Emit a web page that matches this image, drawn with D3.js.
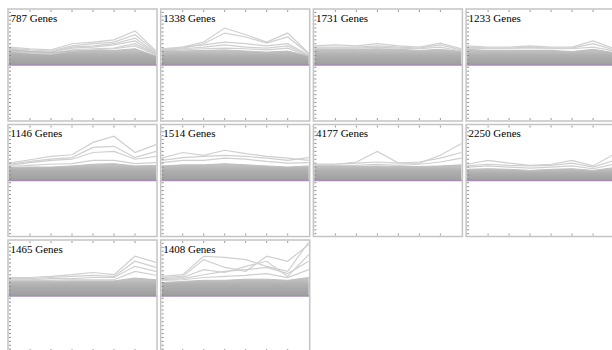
<!DOCTYPE html>
<html><head><meta charset="utf-8">
<script src="https://cdn.jsdelivr.net/npm/d3@7"></script>
<style>html,body{margin:0;padding:0;background:#fff;}svg{display:block;}</style>
</head><body>
<svg id="c" width="612" height="350"></svg>
<script>
const timepoints = [0,1,2,3,4,5,6,7];
const panelLabels = ["787 Genes","1338 Genes","1731 Genes","1233 Genes","1146 Genes","1514 Genes","4177 Genes","2250 Genes","1465 Genes","1408 Genes"];
// upper edge of the dense band of profiles, per panel
const bandUpper = [
  [.27,.24,.22,.25,.26,.26,.29,.16],
  [.25,.25,.26,.27,.25,.23,.25,.16],
  [.28,.28,.28,.29,.28,.26,.28,.24],
  [.28,.26,.26,.26,.26,.24,.28,.22],
  [.23,.24,.24,.26,.29,.30,.26,.27],
  [.26,.28,.28,.30,.28,.26,.24,.26],
  [.25,.25,.25,.26,.25,.25,.26,.28],
  [.20,.21,.20,.18,.20,.21,.18,.23],
  [.26,.26,.26,.27,.27,.27,.32,.29],
  [.24,.26,.28,.28,.30,.30,.28,.33]
];
// visible individual profiles above the band, per panel
const profiles787 = [
  [.32,.29,.27,.38,.41,.45,.61,.25],
  [.30,.27,.25,.34,.38,.41,.54,.23],
  [.29,.25,.23,.32,.34,.38,.48,.21],
  [.27,.23,.23,.30,.32,.36,.43,.20],
  [.29,.23,.20,.27,.29,.30,.38,.19],
  [.25,.21,.20,.25,.27,.29,.34,.18]
];
const profiles1338 = [
  [.27,.32,.41,.66,.54,.41,.57,.21],
  [.25,.30,.38,.57,.50,.39,.50,.20],
  [.29,.32,.36,.41,.38,.34,.38,.18],
  [.27,.29,.32,.36,.32,.30,.34,.17],
  [.25,.27,.29,.30,.29,.27,.30,.16]
];
const profiles1731 = [
  [.34,.36,.34,.38,.34,.32,.39,.29],
  [.32,.32,.32,.34,.32,.30,.36,.27],
  [.30,.30,.30,.32,.30,.29,.32,.25]
];
const profiles1233 = [
  [.34,.32,.32,.34,.32,.32,.43,.29],
  [.32,.30,.30,.32,.30,.30,.38,.27],
  [.30,.29,.29,.29,.29,.29,.32,.25]
];
const profiles1146 = [
  [.31,.37,.43,.46,.68,.79,.50,.64],
  [.29,.34,.38,.41,.59,.61,.41,.52],
  [.27,.32,.36,.38,.50,.52,.38,.43],
  [.25,.27,.29,.30,.36,.36,.30,.32]
];
const profiles1514 = [
  [.40,.50,.45,.54,.48,.43,.40,.36],
  [.36,.41,.43,.45,.43,.40,.36,.41],
  [.32,.36,.36,.40,.38,.34,.31,.32]
];
const profiles4177 = [
  [.29,.29,.33,.52,.31,.31,.45,.66],
  [.29,.29,.31,.33,.31,.33,.40,.50],
  [.27,.27,.27,.29,.27,.29,.33,.40]
];
const profiles2250 = [
  [.29,.36,.31,.27,.29,.36,.26,.47],
  [.26,.29,.27,.26,.27,.31,.24,.36],
  [.24,.26,.24,.22,.24,.26,.21,.29]
];
const profiles1465 = [
  [.33,.33,.35,.38,.42,.38,.71,.60],
  [.31,.31,.33,.35,.37,.35,.62,.51],
  [.29,.29,.31,.31,.33,.33,.53,.44],
  [.28,.28,.28,.29,.29,.29,.44,.37]
];
const profiles1408 = [
  [.35,.38,.71,.69,.65,.53,.44,.96],
  [.33,.35,.65,.51,.44,.71,.62,.92],
  [.31,.33,.47,.42,.53,.62,.35,.74],
  [.29,.31,.38,.44,.47,.51,.40,.62],
  [.28,.29,.33,.35,.37,.40,.33,.47]
];
const allProfiles = [profiles787,profiles1338,profiles1731,profiles1233,profiles1146,profiles1514,profiles4177,profiles2250,profiles1465,profiles1408];

const svg = d3.select("#c");
const defs = svg.append("defs");
const grad = defs.append("linearGradient").attr("id","bandGrad").attr("x1",0).attr("y1",0).attr("x2",0).attr("y2",1);
grad.append("stop").attr("offset","0%").attr("stop-color","#c6c6c6");
grad.append("stop").attr("offset","40%").attr("stop-color","#b0b0b0");
grad.append("stop").attr("offset","100%").attr("stop-color","#9e9e9e");

const W = 149, H = 112, DX = 152.7, DY = 115.5, X0 = 8, Y0 = 9;
const cols = 4;

panelLabels.forEach((lab, i) => {
  const c = i % cols, r = Math.floor(i / cols);
  const x0 = X0 + c*DX, y0 = Y0 + r*DY;
  const x = d3.scaleLinear().domain([0,7]).range([x0+1, x0+W-1]);
  const y = d3.scaleLinear().domain([-1,1]).range([y0+H, y0]);
  const g = svg.append("g");
  defs.append("clipPath").attr("id","cp"+i).append("rect").attr("x",x0).attr("y",y0).attr("width",W).attr("height",H);
  const inner = g.append("g").attr("clip-path","url(#cp"+i+")");

  const area = d3.area().x((d,k)=>x(timepoints[k])).y0(y(0)).y1(d=>y(d));
  inner.append("path").datum(bandUpper[i]).attr("d",area).attr("fill","url(#bandGrad)");

  const line = d3.line().x((d,k)=>x(timepoints[k])).y(d=>y(d));
  inner.selectAll("path.prof").data(allProfiles[i]).join("path").attr("class","prof")
    .attr("d",line).attr("fill","none").attr("stroke","#cfcfcf").attr("stroke-width",1.2);
  inner.append("path").datum(bandUpper[i]).attr("d",line).attr("fill","none").attr("stroke","#bdbdbd").attr("stroke-width",1);

  // baseline
  inner.append("line").attr("x1",x0).attr("x2",x0+W).attr("y1",y(0)).attr("y2",y(0))
    .attr("stroke","#a68db2").attr("stroke-width",1.5);

  // frame
  g.append("rect").attr("x",x0).attr("y",y0).attr("width",W).attr("height",H)
    .attr("fill","none").attr("stroke","#c4c4c4").attr("stroke-width",1.5);

  // x ticks top and bottom
  const xt = d3.range(1,7);
  g.selectAll("line.xtt").data(xt).join("line").attr("x1",d=>x(d)).attr("x2",d=>x(d))
    .attr("y1",y0+1).attr("y2",y0+3).attr("stroke","#9a9a9a").attr("stroke-width",1);
  g.selectAll("line.xtb").data(xt).join("line").attr("x1",d=>x(d)).attr("x2",d=>x(d))
    .attr("y1",y0+H-1).attr("y2",y0+H-3).attr("stroke","#9a9a9a").attr("stroke-width",1);
  // y ticks on left
  const yt = d3.range(-0.95, 1.0, 0.07);
  g.selectAll("line.yt").data(yt).join("line").attr("x1",x0+1).attr("x2",x0+3)
    .attr("y1",d=>y(d)).attr("y2",d=>y(d)).attr("stroke","#8c8c8c").attr("stroke-width",1);

  g.append("text").attr("x",x0+2.5).attr("y",y0+12.5).text(lab)
    .style("font-family","'Liberation Serif'").style("font-size","11px").style("fill","#000");
});
</script>
</body></html>
